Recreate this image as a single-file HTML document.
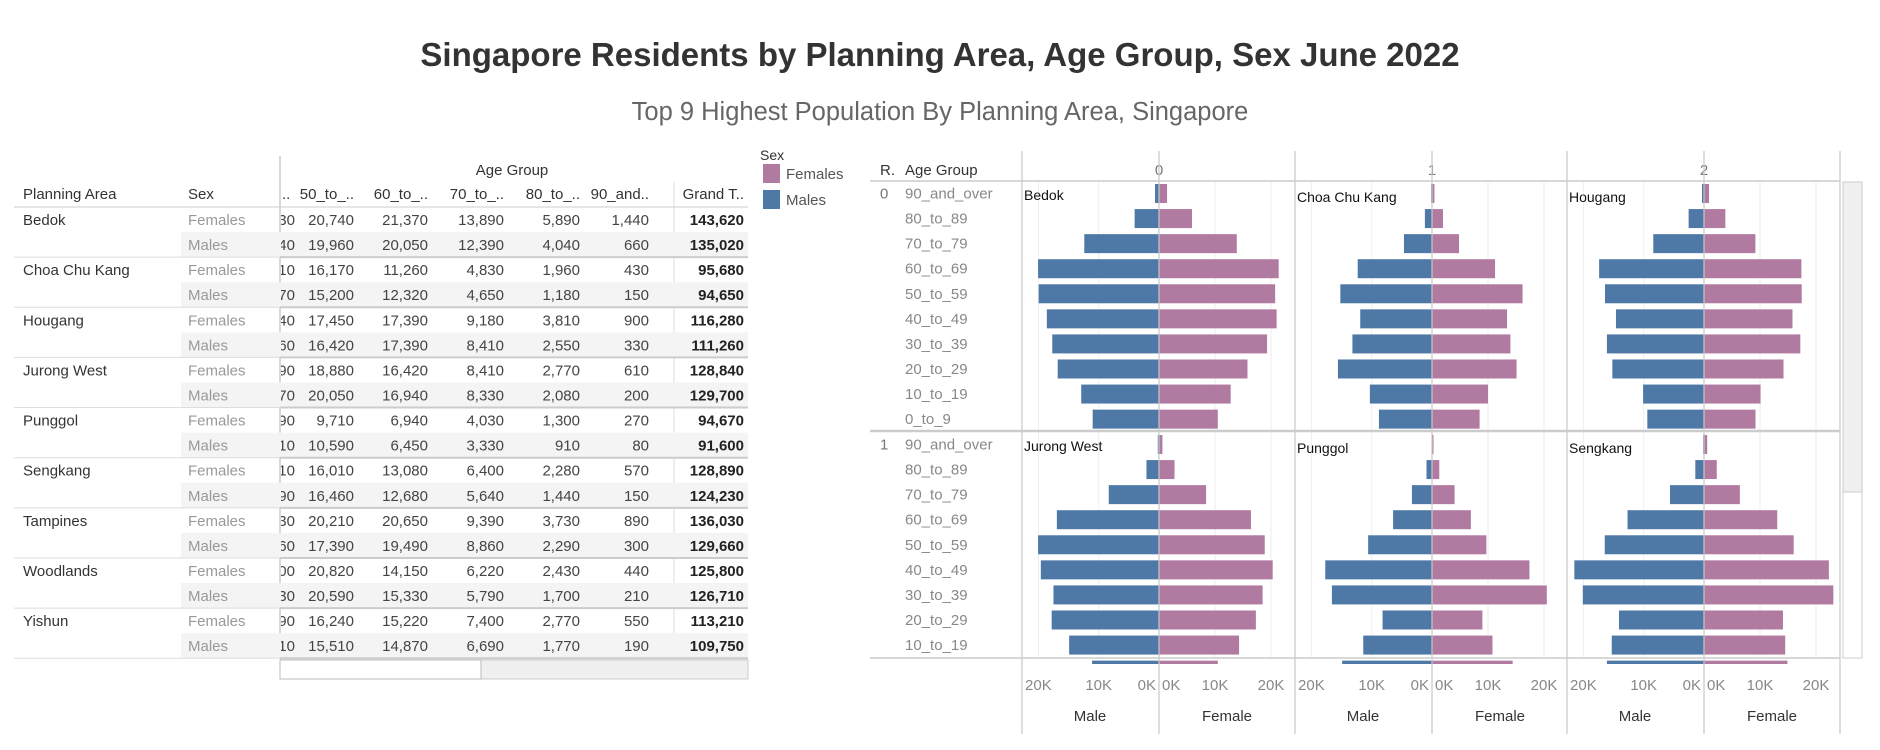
<!DOCTYPE html>
<html><head><meta charset="utf-8"><style>
body{margin:0;background:#fff;}
svg{display:block;font-family:"Liberation Sans",sans-serif;}
</style></head><body>
<svg id="root" width="1880" height="750" viewBox="0 0 1880 750">
<text x="940" y="66" text-anchor="middle" font-size="33" font-weight="bold" fill="#333">Singapore Residents by Planning Area, Age Group, Sex June 2022</text>
<text x="940" y="120" text-anchor="middle" font-size="25.5" fill="#666">Top 9 Highest Population By Planning Area, Singapore</text>
<g id="tbl"></g>
<g id="legend"></g>
<g id="chart"></g>
</svg>
<script>
const areas = ["Bedok","Choa Chu Kang","Hougang","Jurong West","Punggol","Sengkang","Tampines","Woodlands","Yishun"];
const colHeaders = ["50_to_..","60_to_..","70_to_..","80_to_..","90_and..","Grand T.."];
const cutDigits = [["30","40"],["10","70"],["40","60"],["90","70"],["90","10"],["10","90"],["30","60"],["00","30"],["90","10"]];
const tblFemales = [
 ["20,740","21,370","13,890","5,890","1,440","143,620"],
 ["16,170","11,260","4,830","1,960","430","95,680"],
 ["17,450","17,390","9,180","3,810","900","116,280"],
 ["18,880","16,420","8,410","2,770","610","128,840"],
 ["9,710","6,940","4,030","1,300","270","94,670"],
 ["16,010","13,080","6,400","2,280","570","128,890"],
 ["20,210","20,650","9,390","3,730","890","136,030"],
 ["20,820","14,150","6,220","2,430","440","125,800"],
 ["16,240","15,220","7,400","2,770","550","113,210"]];
const tblMales = [
 ["19,960","20,050","12,390","4,040","660","135,020"],
 ["15,200","12,320","4,650","1,180","150","94,650"],
 ["16,420","17,390","8,410","2,550","330","111,260"],
 ["20,050","16,940","8,330","2,080","200","129,700"],
 ["10,590","6,450","3,330","910","80","91,600"],
 ["16,460","12,680","5,640","1,440","150","124,230"],
 ["17,390","19,490","8,860","2,290","300","129,660"],
 ["20,590","15,330","5,790","1,700","210","126,710"],
 ["15,510","14,870","6,690","1,770","190","109,750"]];

const ageGroups = ["90_and_over","80_to_89","70_to_79","60_to_69","50_to_59","40_to_49","30_to_39","20_to_29","10_to_19","0_to_9"];
const panelNames = ["Bedok","Choa Chu Kang","Hougang","Jurong West","Punggol","Sengkang"];
const maleK = [
 [0.66,4.04,12.39,20.05,19.96,18.6,17.7,16.8,12.9,11.0],
 [0.15,1.18,4.65,12.32,15.2,11.9,13.2,15.6,10.3,8.8],
 [0.33,2.55,8.41,17.39,16.42,14.6,16.1,15.2,10.1,9.4],
 [0.2,2.08,8.33,16.94,20.05,19.6,17.5,17.8,14.9,11.1],
 [0.08,0.91,3.33,6.45,10.59,17.7,16.6,8.2,11.4,14.9],
 [0.15,1.44,5.64,12.68,16.46,21.5,20.1,14.1,15.3,16.1]];
const femaleK = [
 [1.44,5.89,13.89,21.37,20.74,21.0,19.3,15.8,12.8,10.5],
 [0.43,1.96,4.83,11.26,16.17,13.4,14.0,15.1,10.0,8.5],
 [0.9,3.81,9.18,17.39,17.45,15.8,17.2,14.2,10.1,9.2],
 [0.61,2.77,8.41,16.42,18.88,20.3,18.5,17.3,14.3,10.5],
 [0.27,1.3,4.03,6.94,9.71,17.4,20.5,9.0,10.8,14.4],
 [0.57,2.28,6.4,13.08,16.01,22.3,23.1,14.1,14.5,14.9]];
const tickValues = [20,10,0];
const tickLabels = ["20K","10K","0K"];

const NS="http://www.w3.org/2000/svg";
function mk(parent,tag,attrs,text){const e=document.createElementNS(NS,tag);for(const k in attrs)e.setAttribute(k,attrs[k]);if(text!==undefined)e.textContent=text;parent.appendChild(e);return e;}

// ---------- table ----------
const T=document.getElementById('tbl');
const rowTop=207, rowH=25.07, colRight=[354,428,504,580,649,744];
mk(T,'line',{x1:280,y1:156,x2:280,y2:658,stroke:'#ccc','stroke-width':1.5});
mk(T,'line',{x1:674,y1:182,x2:674,y2:658,stroke:'#ddd','stroke-width':1});
let t=mk(T,'text',{x:512,y:175,'text-anchor':'middle','font-size':15,fill:'#333'},'Age Group');

t=mk(T,'text',{x:23,y:199,'font-size':15,fill:'#333'},'Planning Area');

t=mk(T,'text',{x:188,y:199,'font-size':15,fill:'#333'},'Sex');

mk(T,'text',{x:282,y:199,'font-size':15,fill:'#333'},'..');
colHeaders.forEach((h,i)=>{const e=mk(T,'text',{x:colRight[i],y:199,'text-anchor':'end','font-size':15,fill:'#333'},h);
 });
mk(T,'line',{x1:14,y1:207,x2:748,y2:207,stroke:'#ccc','stroke-width':1});
const clip=mk(T,'clipPath',{id:'cutclip'});mk(clip,'rect',{x:281,y:200,width:16,height:460});
areas.forEach((a,i)=>{
 const y0=rowTop+i*2*rowH;
 mk(T,'rect',{x:181,y:y0+rowH,width:567,height:rowH,fill:'#f4f4f4'});
 const an=mk(T,'text',{x:23,y:y0+18,'font-size':15,fill:'#333'},a);
 
 [['Females',tblFemales[i]],['Males',tblMales[i]]].forEach(([sx,vals],j)=>{
  const yb=y0+j*rowH+18;
  const s=mk(T,'text',{x:188,y:yb,'font-size':15,fill:'#999'},sx);
  
  mk(T,'text',{x:295,y:yb,'text-anchor':'end','font-size':15,fill:'#444','clip-path':'url(#cutclip)'},'1'+cutDigits[i][j]);
  vals.forEach((v,k)=>{const c=mk(T,'text',{x:colRight[k],y:yb,'text-anchor':'end','font-size':15,fill:k==5?'#222':'#444','font-weight':k==5?'bold':'normal'},v);
   });
 });
 const ly=y0+2*rowH;
 mk(T,'line',{x1:14,y1:ly,x2:280,y2:ly,stroke:'#ddd','stroke-width':1});
 mk(T,'line',{x1:280,y1:ly,x2:748,y2:ly,stroke:'#ccc','stroke-width':2});
});
const sb=mk(T,'g',{});

mk(sb,'rect',{x:280,y:660,width:468,height:19,fill:'#f0f0f0',stroke:'#ccc'});
mk(sb,'rect',{x:280,y:660,width:201,height:19,fill:'#fff',stroke:'#bbb'});

// ---------- legend ----------
const L=document.getElementById('legend');
mk(L,'text',{x:760,y:160,'font-size':14,fill:'#333'},'Sex');
[['Females','#b07aa1',164],['Males','#4e79a7',190]].forEach(([n,c,y])=>{
 const g=mk(L,'g',{});
 mk(g,'rect',{x:763,y:y,width:17,height:19,fill:c});
 mk(g,'text',{x:786,y:y+15,'font-size':15,fill:'#555'},n);
});

// ---------- chart ----------
const C=document.getElementById('chart');
const panelLeft=[1022,1295,1567], panelW=273, mPx=6.03, fPx=5.6, hdrBottom=181, prH=251, barH=19, chartBottom=658;
function xMale(p,v){return panelLeft[p]+137 - v*mPx;}
function xFemale(p,v){return panelLeft[p]+137 + v*fPx;}
function yRow(r,k){return hdrBottom + r*prH + 12.5 + k*rowH;}
mk(C,'text',{x:880,y:175,'font-size':15,fill:'#333'},'R.');
mk(C,'text',{x:905,y:175,'font-size':15,fill:'#333'},'Age Group');
const cc=mk(C,'clipPath',{id:'chartclip'});mk(cc,'rect',{x:870,y:181,width:975,height:483});
const GG=mk(C,'g',{});
const G=mk(C,'g',{'clip-path':'url(#chartclip)'});
// gridlines and borders
panelLeft.forEach((pl,p)=>{
 const h=mk(C,'text',{x:pl+137,y:175,'text-anchor':'middle','font-size':15,fill:'#777'},String(p));
 
 [10,20].forEach(v=>{mk(GG,'line',{x1:xMale(p,v),y1:181,x2:xMale(p,v),y2:658,stroke:'#eee'});mk(GG,'line',{x1:xFemale(p,v),y1:181,x2:xFemale(p,v),y2:658,stroke:'#eee'});});
 mk(GG,'line',{x1:pl,y1:151,x2:pl,y2:734,stroke:'#d4d4d4','stroke-width':1.5});
});
mk(GG,'line',{x1:1840,y1:151,x2:1840,y2:734,stroke:'#d4d4d4','stroke-width':1.5});
for(let r=0;r<2;r++){
 const ri=mk(C,'text',{x:880,y:yRow(r,0)+5,'font-size':15,fill:'#777'},String(r));
 
 ageGroups.forEach((ag,k)=>{const y=yRow(r,k);if(y>chartBottom)return;
  const a=mk(G,'text',{x:905,y:y+5,'font-size':15,fill:'#888'},ag);
  });
}
panelNames.forEach((nm,i)=>{
 const r=Math.floor(i/3), p=i%3;
 ageGroups.forEach((ag,k)=>{
  const y=yRow(r,k)-barH/2;
  const c0=xMale(p,0);
  const mb=mk(G,'rect',{x:xMale(p,maleK[i][k]),y:y,width:c0-xMale(p,maleK[i][k]),height:barH,fill:'#4e79a7'});
  
  const fb=mk(G,'rect',{x:c0,y:y,width:xFemale(p,femaleK[i][k])-c0,height:barH,fill:'#b07aa1'});
  
 });
 const lb=mk(G,'text',{x:panelLeft[p]+2,y:hdrBottom+r*prH+(p==0?19:21),'font-size':14,fill:'#111'},nm);
 
});
panelLeft.forEach((pl,p)=>{mk(C,'line',{x1:pl+137,y1:151,x2:pl+137,y2:734,stroke:'#c8c8c8','stroke-width':1.2});});
mk(C,'line',{x1:870,y1:181,x2:1840,y2:181,stroke:'#ccc','stroke-width':1.5});
mk(C,'line',{x1:870,y1:431,x2:1840,y2:431,stroke:'#ccc','stroke-width':2.5});
mk(C,'line',{x1:870,y1:658,x2:1840,y2:658,stroke:'#ccc','stroke-width':1.5});
// axes
panelLeft.forEach((pl,p)=>{
 tickValues.forEach((v,j)=>{
  const xm=v==0?xMale(p,0)-3:xMale(p,v), xf=v==0?xFemale(p,0)+3:xFemale(p,v);
  const a=mk(C,'text',{x:xm,y:690,'text-anchor':v==0?'end':'middle','font-size':15,fill:'#888'},tickLabels[j]);
  
  const b=mk(C,'text',{x:xf,y:690,'text-anchor':v==0?'start':'middle','font-size':15,fill:'#888'},tickLabels[j]);
  
 });
 const m=mk(C,'text',{x:pl+68,y:721,'text-anchor':'middle','font-size':15,fill:'#333'},'Male');
 
 const f=mk(C,'text',{x:pl+205,y:721,'text-anchor':'middle','font-size':15,fill:'#333'},'Female');
 
});
// vertical scrollbar
const vs=mk(C,'g',{});

mk(vs,'rect',{x:1843,y:182,width:19,height:476,fill:'#fff',stroke:'#ccc'});
mk(vs,'rect',{x:1843,y:182,width:19,height:310,fill:'#f0f0f0',stroke:'#ccc'});
</script>
</body></html>
